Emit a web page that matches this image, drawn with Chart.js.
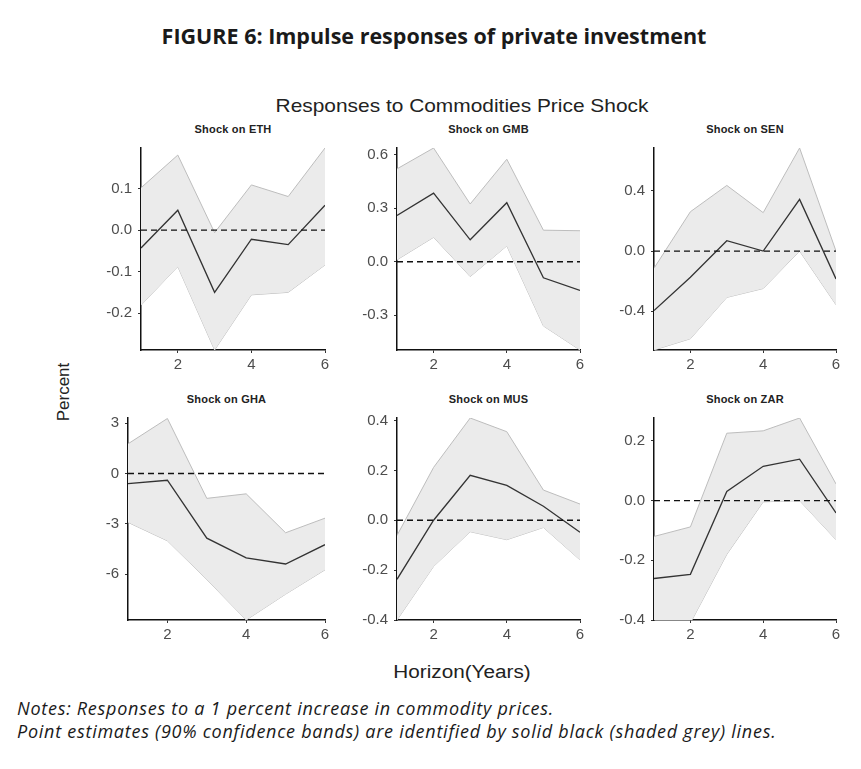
<!DOCTYPE html>
<html>
<head>
<meta charset="utf-8">
<script src="https://cdn.jsdelivr.net/npm/chart.js@4.4.0/dist/chart.umd.min.js"></script>
<style>
  body { margin: 0; background: #fff; width: 861px; height: 769px; position: relative; overflow: hidden; font-family: "Liberation Sans", Arial, sans-serif; }
  .abs { position: absolute; }
  #fig { left: 0; width: 868px; top: 22px; text-align: center; font-family: "Open Sans", sans-serif; font-weight: 700; font-size: 21.5px; line-height: 28px; color: #1a1a1a; }
  #sub { left: 0; width: 924px; top: 95px; text-align: center; font-size: 19px; line-height: 22px; color: #222; transform: scaleX(1.1); transform-origin: 462px 0; }
  #ylab { left: 64px; top: 392px; font-size: 17px; color: #222; transform: translate(-50%, -50%) rotate(-90deg); white-space: nowrap; }
  #xlab { left: 0; width: 924px; top: 661px; text-align: center; font-size: 18px; line-height: 22px; color: #222; transform: scaleX(1.15); transform-origin: 462px 0; }
  .ptitle { font-size: 11px; font-weight: 700; line-height: 12px; text-align: center; color: #222; letter-spacing: 0.2px; }
  #notes { left: 17px; top: 697px; font-family: "Open Sans", sans-serif; font-style: italic; font-size: 18px; line-height: 23px; letter-spacing: 0.74px; color: #1a1a1a; white-space: nowrap; }
  canvas { position: absolute; }
</style>
</head>
<body>
<div id="fig" class="abs">FIGURE 6: Impulse responses of private investment</div>
<div id="sub" class="abs">Responses to Commodities Price Shock</div>
<div id="ylab" class="abs">Percent</div>
<div id="xlab" class="abs">Horizon(Years)</div>
<div id="notes" class="abs">Notes: Responses to a 1 percent increase in commodity prices.<br>Point estimates (90% confidence bands) are identified by solid black (shaded grey) lines.</div>

<script>
// horizon (years)
const horizon = [1, 2, 3, 4, 5, 6];
const xTicks = [2, 4, 6];

// point estimates and 90% bands
const ethPoint = [-0.043, 0.048, -0.150, -0.022, -0.035, 0.060];
const ethUpper = [0.102, 0.181, -0.006, 0.109, 0.081, 0.198];
const ethLower = [-0.181, -0.088, -0.289, -0.156, -0.150, -0.084];
const ethTicks = [-0.2, -0.1, 0, 0.1];

const gmbPoint = [0.260, 0.385, 0.123, 0.331, -0.090, -0.161];
const gmbUpper = [0.521, 0.638, 0.324, 0.575, 0.177, 0.174];
const gmbLower = [0.011, 0.137, -0.083, 0.089, -0.360, -0.495];
const gmbTicks = [-0.3, 0, 0.3, 0.6];

const senPoint = [-0.396, -0.174, 0.069, 0.000, 0.344, -0.185];
const senUpper = [-0.114, 0.262, 0.437, 0.256, 0.686, 0.000];
const senLower = [-0.658, -0.583, -0.308, -0.249, 0.000, -0.357];
const senTicks = [-0.4, 0, 0.4];

const ghaPoint = [-0.60, -0.40, -3.85, -5.03, -5.39, -4.24];
const ghaUpper = [1.77, 3.28, -1.48, -1.21, -3.53, -2.66];
const ghaLower = [-2.91, -4.01, -6.32, -8.73, -7.19, -5.74];
const ghaTicks = [-6, -3, 0, 3];

const musPoint = [-0.237, 0.000, 0.180, 0.140, 0.056, -0.048];
const musUpper = [-0.061, 0.212, 0.410, 0.355, 0.121, 0.065];
const musLower = [-0.400, -0.185, -0.046, -0.078, -0.029, -0.159];
const musTicks = [-0.4, -0.2, 0, 0.2, 0.4];

const zarPoint = [-0.261, -0.247, 0.031, 0.115, 0.139, -0.041];
const zarUpper = [-0.120, -0.088, 0.226, 0.234, 0.277, 0.056];
const zarLower = [-0.520, -0.410, -0.180, -0.004, 0.000, -0.131];
const zarTicks = [-0.4, -0.2, 0, 0.2];

const panels = [
  { name: 'ETH', point: ethPoint, upper: ethUpper, lower: ethLower, ticks: ethTicks, min: -0.289, max: 0.198, dec: 1, L: 141, R: 325, T: 142, B: 350 },
  { name: 'GMB', point: gmbPoint, upper: gmbUpper, lower: gmbLower, ticks: gmbTicks, min: -0.495, max: 0.638, dec: 1, L: 397, R: 580, T: 142, B: 350 },
  { name: 'SEN', point: senPoint, upper: senUpper, lower: senLower, ticks: senTicks, min: -0.658, max: 0.686, dec: 1, L: 654, R: 836, T: 142, B: 350 },
  { name: 'GHA', point: ghaPoint, upper: ghaUpper, lower: ghaLower, ticks: ghaTicks, min: -8.73, max: 3.31, dec: 0, L: 128, R: 325, T: 412, B: 620 },
  { name: 'MUS', point: musPoint, upper: musUpper, lower: musLower, ticks: musTicks, min: -0.400, max: 0.410, dec: 1, L: 397, R: 580, T: 412, B: 620 },
  { name: 'ZAR', point: zarPoint, upper: zarUpper, lower: zarLower, ticks: zarTicks, min: -0.400, max: 0.277, dec: 1, L: 654, R: 836, T: 412, B: 620 }
];

// dashed reference line at zero
const zeroLine = {
  id: 'zeroLine',
  afterDatasetsDraw(chart) {
    const { ctx, chartArea, scales } = chart;
    const y = scales.y.getPixelForValue(0);
    ctx.save();
    ctx.beginPath();
    ctx.setLineDash([6, 4]);
    ctx.lineWidth = 1.4;
    ctx.strokeStyle = '#111';
    ctx.moveTo(chartArea.left, y);
    ctx.lineTo(chartArea.right, y);
    ctx.stroke();
    ctx.restore();
  }
};

const yW = 44, padR = 9, padT = 9, xH = 26;

function toXY(vals) {
  return horizon.map((h, i) => ({ x: h, y: vals[i] }));
}

for (let p of panels) {
  const t = document.createElement('div');
  t.className = 'abs ptitle';
  t.style.left = p.L + 'px';
  t.style.width = (p.R - p.L) + 'px';
  t.style.top = (p.T - 19) + 'px';
  t.textContent = 'Shock on ' + p.name;
  document.body.appendChild(t);

  const c = document.createElement('canvas');
  const w = yW + (p.R - p.L) + padR;
  const h = padT + (p.B - p.T) + xH;
  c.width = w; c.height = h;
  c.style.width = w + 'px'; c.style.height = h + 'px';
  c.style.left = (p.L - yW) + 'px';
  c.style.top = (p.T - padT) + 'px';
  document.body.appendChild(c);

  const tickFont = { family: 'Liberation Sans', size: 15 };

  new Chart(c, {
    type: 'line',
    data: {
      datasets: [
        // band drawn underneath (higher order = drawn first)
        { data: toXY(p.upper), borderColor: '#bdbdbd', borderWidth: 1, backgroundColor: '#ebebeb', fill: '+1', pointRadius: 0, order: 2 },
        { data: toXY(p.lower), borderColor: '#bdbdbd', borderWidth: 1, fill: false, pointRadius: 0, order: 2 },
        { data: toXY(p.point), borderColor: '#333', borderWidth: 1.3, fill: false, pointRadius: 0, order: 1 }
      ]
    },
    options: {
      responsive: false,
      animation: false,
      layout: { padding: { top: padT, right: padR, left: 0, bottom: 0 } },
      plugins: { legend: { display: false }, tooltip: { enabled: false } },
      scales: {
        x: {
          type: 'linear', min: 1, max: 6,
          afterBuildTicks: s => { s.ticks = xTicks.map(v => ({ value: v })); },
          afterFit: s => { s.height = xH; },
          grid: { drawOnChartArea: false, tickLength: 3, color: '#333' },
          border: { display: true, color: '#111', width: 1.5 },
          ticks: { font: tickFont, color: '#4d4d4d', padding: 3, maxRotation: 0 }
        },
        y: {
          min: p.min, max: p.max,
          afterBuildTicks: s => { s.ticks = p.ticks.map(v => ({ value: v })); },
          afterFit: s => { s.width = yW; },
          grid: { drawOnChartArea: false, tickLength: 3, color: '#333' },
          border: { display: true, color: '#111', width: 1.5 },
          ticks: { font: tickFont, color: '#4d4d4d', padding: 6, callback: v => v.toFixed(p.dec) }
        }
      }
    },
    plugins: [zeroLine]
  });
}
</script>
</body>
</html>
